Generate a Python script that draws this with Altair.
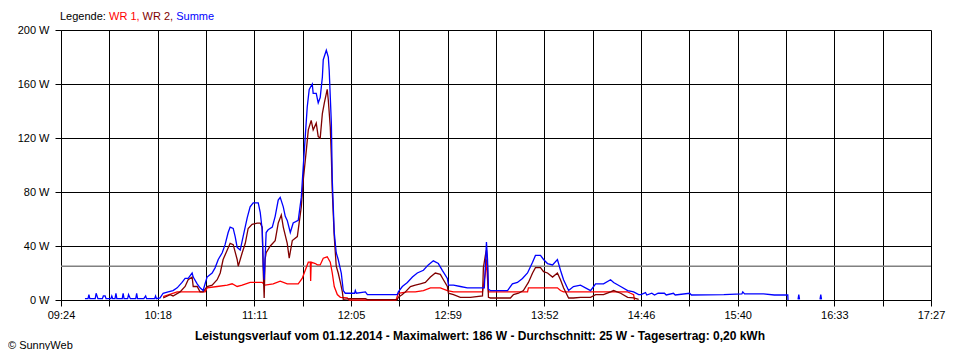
import altair as alt
import pandas as pd

# time axis in minutes after midnight: 09:24 .. 17:27
X0, X1 = 564, 1047
N_GRID = 18
X_LABELS = ["09:24", "", "10:18", "", "11:11", "", "12:05", "", "12:59", "",
            "13:52", "", "14:46", "", "15:40", "", "16:33", "", "17:27"]
Y_TICKS = [0, 40, 80, 120, 160, 200]
AVERAGE_W = 25

LEGEND_PARTS = ["Legende: ", "WR 1, ", "WR 2, ", "Summe"]
LEGEND_COLORS = ["#000000", "#ff0000", "#800000", "#0000ff"]
TITLE = ("Leistungsverlauf vom 01.12.2014 - Maximalwert: 186 W - "
         "Durchschnitt: 25 W - Tagesertrag: 0,20 kWh")
COPYRIGHT = "© SunnyWeb"

# (minute of day, watts); None separates pieces of a trace
SUMME = [
    (577.3, 1), (579.0, 1), (579.5, 4), (580.0, 1), (583.0, 1), (583.5, 5), (584.5, 1),
    (587.0, 1), (587.5, 3), (588.5, 3), (589.0, 1), (591.7, 1), (592.2, 3), (592.7, 1),
    (594.0, 1), (594.5, 5), (595.0, 1), (598.0, 1), (598.5, 5), (599.0, 1), (601.0, 1),
    (601.5, 4), (602.5, 1), (605.5, 1), (606.0, 5), (606.5, 1), (610.0, 1), (611.0, 3),
    (611.5, 1), (616.0, 1), (616.5, 3), (617.0, 1), (619.0, 1.5),
    (620.7, 5), (623.5, 6), (626.2, 7), (628.5, 9), (631.2, 13), (632.9, 16), (634.6, 16),
    (636.8, 20), (637.4, 17), (639.6, 12), (641.2, 9), (642.9, 7), (644.0, 12), (645.1, 17),
    (647.9, 20), (649.6, 24), (651.3, 30), (653.5, 35), (655.1, 41), (656.8, 50), (657.9, 54),
    (659.6, 53), (660.7, 47), (661.8, 39), (663.5, 37), (665.1, 47), (667.4, 61), (669.0, 69),
    (670.7, 72), (673.5, 72), (674.6, 65), (675.7, 52), (676.3, 25), (676.8, 15), (677.9, 50),
    (679.0, 52), (681.3, 54), (682.9, 62), (684.6, 74), (685.7, 76), (687.4, 69), (688.5, 62),
    (689.6, 59), (691.3, 50), (692.9, 57), (695.7, 59), (697.4, 76), (698.5, 99), (699.6, 121),
    (700.7, 143), (701.8, 156), (703.5, 160), (704.0, 153), (705.7, 153), (706.8, 146),
    (707.9, 150), (709.1, 165), (709.6, 178), (711.3, 185), (712.4, 180), (712.9, 170),
    (714.1, 131), (714.6, 89), (715.7, 50), (716.8, 35), (717.9, 30), (719.6, 20), (720.7, 7),
    (721.8, 5), (722.9, 5), (727.0, 5), (727.4, 7), (728.0, 5), (733.0, 6), (734.1, 4),
    (750.7, 4), (751.3, 6), (753.5, 10), (756.3, 13), (759.1, 17), (761.8, 20), (765.2, 22),
    (767.9, 26), (770.7, 29), (773.5, 27), (775.7, 22), (778.5, 16), (779.1, 11), (781.9, 11),
    (785.7, 10), (789.6, 9), (799.0, 9), (799.6, 25), (800.2, 43), (800.8, 30), (801.3, 8),
    (802.4, 7), (811.9, 7), (814.6, 12), (817.4, 13), (820.2, 16), (823.0, 20), (825.8, 28),
    (827.4, 33), (830.2, 33), (831.9, 30), (834.1, 27), (836.9, 26), (839.6, 30), (841.3, 22),
    (843.0, 15), (845.8, 7), (848.5, 10), (852.4, 11), (858.0, 7), (860.8, 12), (865.2, 12),
    (869.1, 15), (870.8, 13), (874.7, 10), (878.6, 7), (881.9, 6), (884.7, 4), (886.0, 4),
    (888.5, 5.5), (889.2, 3.7), (892.0, 5), (893.5, 3.7), (895.5, 5), (899.0, 5), (900.0, 3.7),
    (904.0, 5), (905.0, 3.7), (913.0, 5), (914.0, 3.7), (932.0, 4), (942.0, 4.5), (942.5, 6),
    (943.5, 4.5), (954.0, 4.5), (960.0, 3.7), (967.5, 3.7), (967.6, 0),
    None, (973.2, 0.5), (973.6, 4), (974.0, 0.5),
    None, (985.4, 0.5), (985.8, 4), (986.2, 0.5),
]

WR1 = [
    (620.7, 2.5), (628.5, 6), (639.6, 6), (644.0, 6), (645.1, 9), (650.7, 10), (656.3, 11),
    (659.0, 12), (661.8, 10), (664.6, 11), (669.0, 13), (675.7, 13), (677.3, 11), (681.8, 12),
    (685.7, 14), (689.6, 12), (695.7, 12), (697.9, 16), (699.6, 22), (701.3, 28), (702.4, 28),
    (702.6, 14), (702.9, 28), (705.2, 27), (706.3, 26), (707.9, 26), (709.6, 31), (711.8, 32),
    (713.5, 28), (714.6, 20), (715.7, 10), (717.4, 4), (719.1, 2), (722.9, 1.5), (724.0, 0),
    (750.0, 0), (751.3, 5), (756.3, 6), (760.7, 6), (765.2, 7), (769.1, 9), (774.6, 9),
    (778.5, 7), (781.9, 6), (798.0, 6), (799.6, 20), (800.2, 30), (800.8, 15), (801.3, 6),
    (823.0, 6), (823.5, 9), (830.2, 9), (839.6, 9), (841.3, 7), (843.0, 6), (878.6, 6),
    (880.2, 5), (881.9, 4), (882.4, 0),
]

WR2 = [
    (620.7, 1.5), (624.6, 4), (626.2, 3), (630.1, 6), (632.9, 10), (634.6, 15), (636.8, 17),
    (637.4, 10), (639.6, 10), (641.2, 6), (642.9, 6), (645.1, 10), (647.9, 11), (650.7, 15),
    (652.4, 20), (654.0, 30), (656.3, 37), (657.9, 42), (659.6, 41), (661.8, 30), (662.4, 25),
    (664.6, 35), (666.3, 42), (667.9, 53), (670.1, 56), (672.9, 57), (674.6, 57), (675.7, 54),
    (676.3, 20), (676.8, 1.5), (677.3, 30), (677.9, 35), (680.2, 40), (682.9, 44), (684.6, 57),
    (686.3, 63), (687.4, 54), (689.6, 42), (690.7, 31), (692.4, 44), (695.2, 47), (697.4, 69),
    (698.5, 89), (700.2, 111), (701.3, 126), (702.9, 133), (704.0, 126), (705.7, 131),
    (706.8, 121), (707.9, 120), (709.1, 138), (710.2, 146), (711.8, 156), (712.4, 148),
    (713.5, 128), (714.1, 106), (714.6, 81), (715.7, 47), (716.8, 25), (717.9, 20), (719.1, 13),
    (720.2, 6), (720.7, 0.5), (724.6, 1), (733.0, 1), (734.1, 0.3), (750.7, 0.3), (751.3, 2),
    (753.5, 4), (755.2, 6), (758.0, 10), (760.7, 11), (763.5, 12), (766.3, 13), (769.1, 17),
    (771.8, 20), (774.6, 19), (776.3, 15), (778.5, 10), (779.1, 5), (781.9, 4), (785.7, 2),
    (791.3, 2), (798.0, 3), (798.5, 24), (799.6, 33), (800.2, 37), (800.8, 25), (801.3, 2),
    (802.4, 1.5), (813.5, 1.5), (815.2, 4), (818.0, 5), (820.7, 7), (823.5, 13), (825.8, 20),
    (827.4, 24), (830.2, 24), (831.9, 21), (834.1, 20), (836.9, 17), (839.6, 20), (841.3, 15),
    (843.0, 9), (845.8, 1.5), (848.5, 1.5), (852.4, 2), (858.0, 2), (860.8, 4), (865.2, 4),
    (869.1, 6), (870.8, 7), (874.7, 5), (878.6, 2), (881.9, 1.5), (884.7, 0.5),
]


def to_frame(points):
    rows, seg = [], 0
    for p in points:
        if p is None:
            seg += 1
            continue
        rows.append({"m": p[0], "w": p[1], "seg": seg})
    return pd.DataFrame(rows)


FONT = "Liberation Sans"
step = (X1 - X0) / N_GRID
x_values = [X0 + k * step for k in range(N_GRID + 1)]
label_js = "[" + ",".join("'%s'" % s for s in X_LABELS) + "]"

X = alt.X(
    "m:Q",
    scale=alt.Scale(domain=[X0, X1], nice=False, zero=False),
    axis=alt.Axis(
        values=x_values, title=None, grid=True, tickSize=6, labelPadding=3,
        labelExpr=label_js + "[round((datum.value - %d) / %.6f)]" % (X0, step),
        labelOverlap=False, labelFlush=False,
    ),
)
Y = alt.Y(
    "w:Q",
    scale=alt.Scale(domain=[0, 200], nice=False),
    axis=alt.Axis(
        values=Y_TICKS, title=None, grid=True, tickSize=6, labelPadding=6,
        labelExpr="datum.value + ' W'", labelOverlap=False, labelFlush=False,
    ),
)

avg = alt.Chart(pd.DataFrame({"w": [AVERAGE_W]})).mark_rule(
    color="#808080", strokeWidth=1.3
).encode(y=Y)

layers = [avg]
for pts, col in [(WR1, "#ff0000"), (WR2, "#800000"), (SUMME, "#0000ff")]:
    layers.append(
        alt.Chart(to_frame(pts)).mark_line(color=col, strokeWidth=1.3).encode(
            x=X, y=Y, detail="seg:N"
        )
    )

# legend text pieces
offsets = [-1, 48, 81.6, 115.2]
for txt, col, dx in zip(LEGEND_PARTS, LEGEND_COLORS, offsets):
    layers.append(
        alt.Chart(pd.DataFrame({"t": [txt]})).mark_text(
            align="left", baseline="alphabetic", font=FONT, fontSize=11, color=col
        ).encode(text="t:N", x=alt.value(dx), y=alt.value(-10))
    )

layers.append(
    alt.Chart(pd.DataFrame({"t": [TITLE]})).mark_text(
        align="center", baseline="alphabetic", font=FONT, fontSize=12,
        fontWeight="bold", color="black"
    ).encode(text="t:N", x=alt.value(419), y=alt.value(310))
)
layers.append(
    alt.Chart(pd.DataFrame({"t": [COPYRIGHT]})).mark_text(
        align="left", baseline="alphabetic", font=FONT, fontSize=11, color="black"
    ).encode(text="t:N", x=alt.value(-53), y=alt.value(319))
)

chart = alt.layer(*layers).properties(
    width=870,
    height=270,
    autosize=alt.AutoSizeParams(type="none"),
    padding={"left": 53, "top": 22, "right": 15, "bottom": 50},
    background="white",
).configure_view(strokeWidth=0).configure_axis(
    domainColor="black", tickColor="black", gridColor="black", gridOpacity=1,
    gridWidth=1, domainWidth=1, tickWidth=1, labelColor="black",
    labelFont=FONT, labelFontSize=11,
)

chart.save("out.html", embed_options={"renderer": "svg", "actions": False})
